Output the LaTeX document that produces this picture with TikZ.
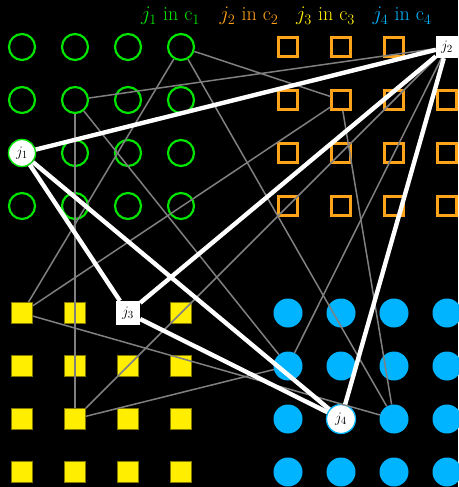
\documentclass[tikz,border=0pt]{standalone}
\definecolor{cg}{RGB}{0,228,0}
\definecolor{co}{RGB}{255,163,26}
\definecolor{cy}{RGB}{255,238,0}
\definecolor{cyd}{RGB}{130,120,0}
\definecolor{cb}{RGB}{0,180,255}
\definecolor{ce}{RGB}{128,128,128}
\begin{document}
\begin{tikzpicture}[x=1pt,y=-1pt,
  gc/.style={circle, draw=cg, line width=2.2pt, minimum size=26pt, inner sep=0pt},
  os/.style={rectangle, draw=co, line width=2.2pt, minimum size=19pt, inner sep=0pt},
  ys/.style={rectangle, fill=cy, draw=cyd, line width=0.6pt, minimum size=21pt, inner sep=0pt},
  bc/.style={circle, fill=cb, minimum size=29pt, inner sep=0pt},
  jtxt/.style={font=\fontsize{15}{17}\selectfont, text=black},
  jc/.style={circle, fill=white, line width=1.3pt, minimum size=27pt, inner sep=0pt, jtxt},
  jr/.style={rectangle, fill=white, inner sep=0pt, jtxt},
  gline/.style={draw=ce, line width=1.5pt},
  wline/.style={draw=white, line width=4.4pt},
  legend/.style={anchor=base, font=\fontsize{20}{24}\selectfont, inner sep=0pt}]
\fill[black] (0,0) rectangle (458,487);
\useasboundingbox (0,0) rectangle (458,487);
% legend
\node[legend, text=cg] (l1) at (170.5,21) {$j_1$ in c$_1$};
\node[legend, text=co] (l2) at (249,21) {$j_2$ in c$_2$};
\node[legend, text=cy] (l3) at (325.5,21) {$j_3$ in c$_3$};
\node[legend, text=cb] (l4) at (402,21) {$j_4$ in c$_4$};
% grids
\foreach \c in {1,...,4}{
  \foreach \r in {1,...,4}{
    \node[gc] (g\c\r) at ({22+53*(\c-1)},{47+53*(\r-1)}) {};
    \node[os] (o\c\r) at ({288+53*(\c-1)},{47+53*(\r-1)}) {};
    \node[ys] (y\c\r) at ({22+53*(\c-1)},{313+53*(\r-1)}) {};
    \node[bc] (b\c\r) at ({288+53*(\c-1)},{313+53*(\r-1)}) {};
  }
}
% special nodes
\node[jc, draw=cg] (j1) at (22,153) {$j_1$};
\node[jr, minimum size=22pt] (j2) at (447,47) {$j_2$};
\node[jr, minimum size=24pt] (j3) at (128,313) {$j_3$};
\node[jc, draw=cb, minimum size=29pt] (j4) at (341,419) {$j_4$};
% gray connectors
\draw[gline] (g22) -- (j2);
\draw[gline] (g41) -- (o22);
\draw[gline] (g41) -- (b33);
\draw[gline] (g41) -- (y11);
\draw[gline] (g22) -- (y23);
\draw[gline] (g22) -- (b12);
\draw[gline] (o22) -- (y11);
\draw[gline] (o22) -- (b33);
\draw[gline] (y11) -- (b33);
\draw[gline] (y23) -- (j2);
\draw[gline] (y23) -- (b12);
\draw[gline] (b12) -- (j2);
% white connectors
\draw[wline] (j1) -- (j2);
\draw[wline] (j1) -- (j3);
\draw[wline] (j1) -- (j4);
\draw[wline] (j2) -- (j3);
\draw[wline] (j2) -- (j4);
\draw[wline] (j3) -- (j4);
\end{tikzpicture}
\end{document}
